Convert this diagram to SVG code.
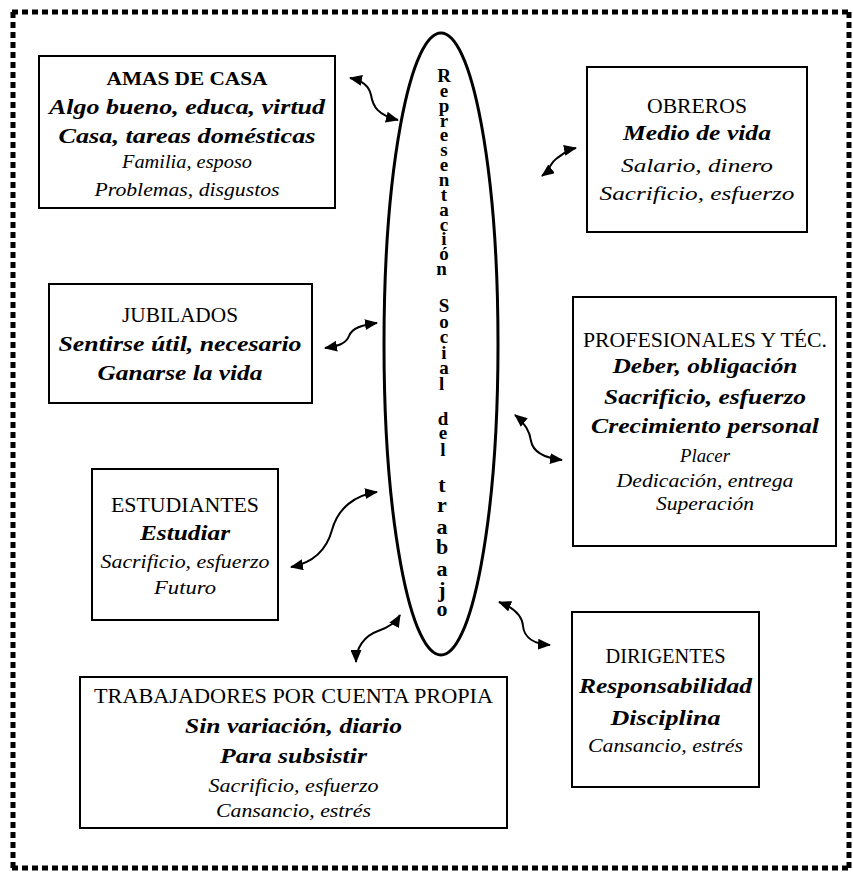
<svg xmlns="http://www.w3.org/2000/svg" width="853" height="875" viewBox="0 0 853 875">
<style>
.bg{fill:#fff}
.border{fill:none;stroke:#000;stroke-width:5;stroke-dasharray:6 4}
.box{fill:#fff;stroke:#000;stroke-width:2}
.ell{fill:none;stroke:#000;stroke-width:3}
.conn{fill:none;stroke:#000;stroke-width:2;marker-start:url(#ah);marker-end:url(#ah)}
text{font-family:'Liberation Serif','Times New Roman',serif;fill:#000;text-anchor:middle}
.h{font-size:20px}
.hb{font-size:19px;font-weight:bold}
.bi{font-size:22px;font-weight:bold;font-style:italic}
.i{font-size:19px;font-style:italic}
.is{font-size:18px;font-style:italic}
.v{font-size:19px;font-weight:bold}
.vt{font-size:22px;font-weight:bold}
</style>
<defs>
<marker id="ah" markerUnits="userSpaceOnUse" markerWidth="13" markerHeight="11" refX="12" refY="5.5" orient="auto-start-reverse">
<path d="M0,0 L13,5.5 L0,11 z" fill="#000"/>
</marker>
</defs>
<rect class="bg" x="0" y="0" width="853" height="875"/>
<g id="frame">
<line class="border" x1="12" y1="12" x2="850" y2="12"/>
<line class="border" x1="13" y1="12" x2="13" y2="868"/>
<line class="border" x1="12" y1="868" x2="850" y2="868"/>
<line class="border" x1="849" y1="12" x2="849" y2="868"/>
</g>
<g id="centro" font-family="Liberation Serif, serif">
<ellipse class="ell" cx="441" cy="344" rx="57" ry="311"/>
<text class="v">
<tspan x="444" y="82">R</tspan><tspan x="444" y="96.8">e</tspan><tspan x="444" y="111.7">p</tspan><tspan x="444" y="126.5">r</tspan><tspan x="444" y="141.4">e</tspan><tspan x="444" y="156.2">s</tspan><tspan x="444" y="171.1">e</tspan><tspan x="444" y="186">n</tspan><tspan x="444" y="200.8">t</tspan><tspan x="444" y="215.7">a</tspan><tspan x="444" y="230.5">c</tspan><tspan x="444" y="245.4">i</tspan><tspan x="444" y="260.2">ó</tspan><tspan x="444" y="275">n</tspan>
<tspan x="444" y="312">S</tspan><tspan x="444" y="327.6">o</tspan><tspan x="444" y="343.2">c</tspan><tspan x="444" y="358.8">i</tspan><tspan x="444" y="374.4">a</tspan><tspan x="444" y="390">l</tspan>
<tspan x="443" y="425">d</tspan><tspan x="443" y="439">e</tspan><tspan x="443" y="456">l</tspan>
</text>
<text class="vt">
<tspan x="442" y="492">t</tspan><tspan x="442" y="512">r</tspan><tspan x="442" y="534">a</tspan><tspan x="442" y="554">b</tspan><tspan x="442" y="576">a</tspan><tspan x="442" y="597">j</tspan><tspan x="442" y="616">o</tspan>
</text>
</g>
<g id="amas" font-family="Liberation Serif, serif">
<rect class="box" x="39" y="56" width="296" height="152"/>
<text class="hb" x="187" y="85" textLength="161" lengthAdjust="spacingAndGlyphs">AMAS DE CASA</text>
<text class="bi" x="187" y="114" textLength="276" lengthAdjust="spacingAndGlyphs">Algo bueno, educa, virtud</text>
<text class="bi" x="187" y="143" textLength="257" lengthAdjust="spacingAndGlyphs">Casa, tareas domésticas</text>
<text class="i" x="187" y="168" textLength="130" lengthAdjust="spacingAndGlyphs">Familia, esposo</text>
<text class="i" x="187" y="196" textLength="185" lengthAdjust="spacingAndGlyphs">Problemas, disgustos</text>
</g>
<g id="obreros" font-family="Liberation Serif, serif">
<rect class="box" x="587" y="67" width="220" height="165"/>
<text class="h" x="697" y="113" textLength="100" lengthAdjust="spacingAndGlyphs">OBREROS</text>
<text class="bi" x="697" y="140" textLength="148" lengthAdjust="spacingAndGlyphs">Medio de vida</text>
<text class="i" x="697" y="172" textLength="152" lengthAdjust="spacingAndGlyphs">Salario, dinero</text>
<text class="i" x="697" y="200" textLength="195" lengthAdjust="spacingAndGlyphs">Sacrificio, esfuerzo</text>
</g>
<g id="jubilados" font-family="Liberation Serif, serif">
<rect class="box" x="49" y="284" width="263" height="119"/>
<text class="h" x="180" y="322" textLength="116" lengthAdjust="spacingAndGlyphs">JUBILADOS</text>
<text class="bi" x="180" y="351" textLength="243" lengthAdjust="spacingAndGlyphs">Sentirse útil, necesario</text>
<text class="bi" x="180" y="380" textLength="165" lengthAdjust="spacingAndGlyphs">Ganarse la vida</text>
</g>
<g id="estudiantes" font-family="Liberation Serif, serif">
<rect class="box" x="92" y="469" width="186" height="151"/>
<text class="h" x="185" y="512" textLength="148" lengthAdjust="spacingAndGlyphs">ESTUDIANTES</text>
<text class="bi" x="185" y="540" textLength="90" lengthAdjust="spacingAndGlyphs">Estudiar</text>
<text class="i" x="185" y="568" textLength="169" lengthAdjust="spacingAndGlyphs">Sacrificio, esfuerzo</text>
<text class="i" x="185" y="594" textLength="62" lengthAdjust="spacingAndGlyphs">Futuro</text>
</g>
<g id="profesionales" font-family="Liberation Serif, serif">
<rect class="box" x="573" y="297" width="263" height="249"/>
<text class="h" x="705" y="347" textLength="244" lengthAdjust="spacingAndGlyphs">PROFESIONALES Y TÉC.</text>
<text class="bi" x="705" y="373" textLength="185" lengthAdjust="spacingAndGlyphs">Deber, obligación</text>
<text class="bi" x="705" y="404" textLength="202" lengthAdjust="spacingAndGlyphs">Sacrificio, esfuerzo</text>
<text class="bi" x="705" y="433" textLength="228" lengthAdjust="spacingAndGlyphs">Crecimiento personal</text>
<text class="is" x="705" y="462" textLength="50" lengthAdjust="spacingAndGlyphs">Placer</text>
<text class="is" x="705" y="487" textLength="177" lengthAdjust="spacingAndGlyphs">Dedicación, entrega</text>
<text class="is" x="705" y="510" textLength="98" lengthAdjust="spacingAndGlyphs">Superación</text>
</g>
<g id="trabajadores" font-family="Liberation Serif, serif">
<rect class="box" x="80" y="677" width="427" height="151"/>
<text class="h" x="293.5" y="703" textLength="399" lengthAdjust="spacingAndGlyphs">TRABAJADORES POR CUENTA PROPIA</text>
<text class="bi" x="293.5" y="733" textLength="217" lengthAdjust="spacingAndGlyphs">Sin variación, diario</text>
<text class="bi" x="293.5" y="763" textLength="147" lengthAdjust="spacingAndGlyphs">Para subsistir</text>
<text class="i" x="293.5" y="792" textLength="170" lengthAdjust="spacingAndGlyphs">Sacrificio, esfuerzo</text>
<text class="i" x="293.5" y="817" textLength="155" lengthAdjust="spacingAndGlyphs">Cansancio, estrés</text>
</g>
<g id="dirigentes" font-family="Liberation Serif, serif">
<rect class="box" x="572" y="612" width="187" height="175"/>
<text class="h" x="665.5" y="663" textLength="120" lengthAdjust="spacingAndGlyphs">DIRIGENTES</text>
<text class="bi" x="665.5" y="693" textLength="173" lengthAdjust="spacingAndGlyphs">Responsabilidad</text>
<text class="bi" x="665.5" y="725" textLength="110" lengthAdjust="spacingAndGlyphs">Disciplina</text>
<text class="i" x="665.5" y="752" textLength="155" lengthAdjust="spacingAndGlyphs">Cansancio, estrés</text>
</g>
<g id="connectors">
<path class="conn" d="M350,78 C360,80 369,85 371,95 C373,107 378,115 398,120"/>
<path class="conn" d="M542,176 C550,170 550,163 556,159 C562,155 566,150 576,148"/>
<path class="conn" d="M325,348 C338,346 346,344 349,336 C352,328 362,325 377,323"/>
<path class="conn" d="M291,567 C312,563 326,552 332,530 C338,508 355,495 377,492"/>
<path class="conn" d="M356,662 C356,648 364,636 378,631 C390,627 396,622 400,615"/>
<path class="conn" d="M515,415 C526,424 530,432 531,441 C533,452 545,458 562,460"/>
<path class="conn" d="M499,602 C512,607 522,614 523,626 C524,638 535,644 550,645"/>
</g>
</svg>
